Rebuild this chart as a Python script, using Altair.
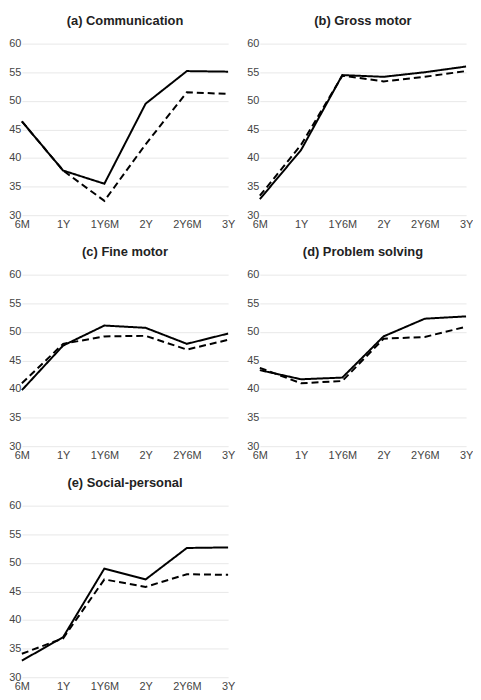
import altair as alt
import pandas as pd

ages = ["6M", "1Y", "1Y6M", "2Y", "2Y6M", "3Y"]

titles = ["(a) Communication", "(b) Gross motor", "(c) Fine motor",
          "(d) Problem solving", "(e) Social-personal"]

comm_solid = [46.4, 37.8, 35.5, 49.5, 55.2, 55.1]
comm_dash = [46.4, 37.8, 32.5, 42.4, 51.5, 51.2]
gross_solid = [32.8, 41.4, 54.5, 54.2, 55.0, 56.0]
gross_dash = [33.4, 42.3, 54.4, 53.4, 54.2, 55.2]
fine_solid = [39.8, 47.6, 51.1, 50.7, 47.9, 49.7]
fine_dash = [41.0, 47.9, 49.2, 49.3, 46.9, 48.6]
prob_solid = [43.3, 41.7, 42.0, 49.2, 52.3, 52.7]
prob_dash = [43.7, 41.0, 41.4, 48.8, 49.1, 50.9]
soc_solid = [32.9, 37.0, 49.0, 47.1, 52.6, 52.7]
soc_dash = [34.1, 36.8, 47.1, 45.8, 48.0, 47.9]

series = [(comm_solid, comm_dash), (gross_solid, gross_dash),
          (fine_solid, fine_dash), (prob_solid, prob_dash),
          (soc_solid, soc_dash)]

W, H = 208, 173
FONT = "Liberation Sans"


def panel(title, solid, dash):
    rows = []
    for a, v in zip(ages, solid):
        rows.append({"age": a, "score": v, "group": "solid"})
    for a, v in zip(ages, dash):
        rows.append({"age": a, "score": v, "group": "dash"})
    df = pd.DataFrame(rows)
    return alt.Chart(df).mark_line(color="black", strokeWidth=2).encode(
        x=alt.X("age:N", sort=ages, title=None,
                scale=alt.Scale(type="point", padding=0),
                axis=alt.Axis(labelAngle=0, ticks=False, domain=False, grid=False,
                              labelFlush=False, labelOverlap=False, labelPadding=3,
                              labelFontSize=11, labelColor="#444", labelFont=FONT)),
        y=alt.Y("score:Q", title=None,
                scale=alt.Scale(domain=[30, 60], nice=False, zero=False),
                axis=alt.Axis(values=[30, 35, 40, 45, 50, 55, 60], ticks=False,
                              domain=False, gridColor="#e8e8e8", labelPadding=1,
                              labelFontSize=11, labelColor="#444", labelFont=FONT)),
        strokeDash=alt.StrokeDash("group:N", legend=None,
                                  scale=alt.Scale(domain=["solid", "dash"],
                                                  range=[[1, 0], [7, 4]])),
    ).properties(
        width=W, height=H,
        title=alt.TitleParams(title, font=FONT, fontSize=13, fontWeight="bold",
                              color="#222", anchor="middle", offset=10),
    )


panels = [panel(t, s, d) for t, (s, d) in zip(titles, series)]

chart = alt.vconcat(
    alt.hconcat(panels[0], panels[1], spacing=11),
    alt.hconcat(panels[2], panels[3], spacing=11),
    panels[4],
    spacing=17,
).properties(padding={"left": 0, "top": 4, "right": 0, "bottom": 0}).configure_view(stroke=None)

chart.save("out.html", embed_options={"renderer": "svg", "actions": False})
